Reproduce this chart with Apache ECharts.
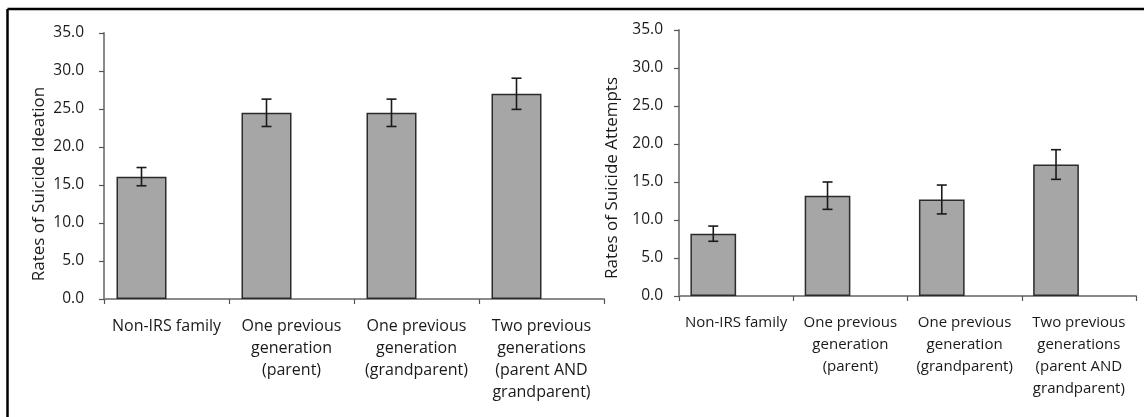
<!DOCTYPE html>
<html>
<head>
<meta charset="utf-8">
<script src="https://cdn.jsdelivr.net/npm/echarts@6/dist/echarts.min.js"></script>
<style>
html,body{margin:0;padding:0;background:#fff;}
#chart{width:1144px;height:417px;}
</style>
</head>
<body>
<div id="chart"></div>
<script>
const categories = [
  'Non-IRS family',
  'One previous\ngeneration\n(parent)',
  'One previous\ngeneration\n(grandparent)',
  'Two previous\ngenerations\n(parent AND\ngrandparent)'
];
const ideationMean = [16.1, 24.5, 24.5, 27.0];
const ideationErr = [1.2, 1.8, 1.8, 2.05];
const attemptsMean = [8.2, 13.2, 12.7, 17.3];
const attemptsErr = [1.0, 1.8, 1.9, 1.95];
const yTicks = {min: 0, max: 35, interval: 5};

const textColor = '#1a1a1a';
const font = 'Open Sans';

function errData(mean, err) {
  return mean.map((m, i) => [i, m - err[i], m + err[i]]);
}

function errRender(params, api) {
  const i = api.value(0);
  const lo = api.coord([i, api.value(1)]);
  const hi = api.coord([i, api.value(2)]);
  const band = api.size([1, 0])[0];
  const x = lo[0] - band * 0.2;
  const cap = 5;
  const style = {stroke: '#1a1a1a', lineWidth: 1.6};
  return {
    type: 'group',
    children: [
      {type: 'line', shape: {x1: x, y1: lo[1], x2: x, y2: hi[1]}, style},
      {type: 'line', shape: {x1: x - cap, y1: lo[1], x2: x + cap, y2: lo[1]}, style},
      {type: 'line', shape: {x1: x - cap, y1: hi[1], x2: x + cap, y2: hi[1]}, style}
    ]
  };
}

function xAxisCfg(grid, size) {
  return {
    type: 'category', gridIndex: grid, data: categories,
    axisLine: {lineStyle: {color: '#8a8a8a', width: 2}},
    axisTick: {show: true, length: 5, lineStyle: {color: '#555', width: 1.2}},
    axisLabel: {color: textColor, fontFamily: font, fontSize: size, lineHeight: 22, margin: 16, interval: 0}
  };
}
function yAxisCfg(grid, margin, size) {
  return {
    type: 'value', gridIndex: grid, min: yTicks.min, max: yTicks.max, interval: yTicks.interval,
    axisLine: {show: true, lineStyle: {color: '#8a8a8a', width: 2}},
    axisTick: {show: true, length: 5, lineStyle: {color: '#555', width: 1.2}},
    splitLine: {show: false},
    axisLabel: {color: textColor, fontFamily: font, fontSize: size, margin: margin,
      formatter: v => v.toFixed(1)}
  };
}
const barStyle = {color: '#a6a6a6', borderColor: '#2b2b2b', borderWidth: 1.5};

const option = {
  animation: false,
  backgroundColor: '#fff',
  grid: [
    {left: 104, top: 33, width: 500, height: 266},
    {left: 679, top: 30, width: 457, height: 266}
  ],
  xAxis: [xAxisCfg(0, 16), xAxisCfg(1, 15)],
  yAxis: [yAxisCfg(0, 20, 15.5), yAxisCfg(1, 16, 15.5)],
  series: [
    {type: 'bar', xAxisIndex: 0, yAxisIndex: 0, data: ideationMean, itemStyle: barStyle,
      barGap: '0%', barCategoryGap: '20%'},
    {type: 'bar', xAxisIndex: 0, yAxisIndex: 0, data: ideationMean.map(() => '-'), itemStyle: barStyle},
    {type: 'custom', xAxisIndex: 0, yAxisIndex: 0, data: errData(ideationMean, ideationErr),
      renderItem: errRender, encode: {x: 0, y: [1, 2]}, z: 10},
    {type: 'bar', xAxisIndex: 1, yAxisIndex: 1, data: attemptsMean, itemStyle: barStyle,
      barGap: '0%', barCategoryGap: '20%'},
    {type: 'bar', xAxisIndex: 1, yAxisIndex: 1, data: attemptsMean.map(() => '-'), itemStyle: barStyle},
    {type: 'custom', xAxisIndex: 1, yAxisIndex: 1, data: errData(attemptsMean, attemptsErr),
      renderItem: errRender, encode: {x: 0, y: [1, 2]}, z: 10}
  ],
  graphic: [
    {type: 'line', shape: {x1: 7.5, y1: 9, x2: 1144, y2: 9}, style: {stroke: '#000', lineWidth: 2.5}},
    {type: 'line', shape: {x1: 7.5, y1: 9, x2: 7.5, y2: 417}, style: {stroke: '#000', lineWidth: 2.5}},
    {type: 'text', x: 39, y: 184, rotation: Math.PI / 2,
      style: {text: 'Rates of Suicide Ideation', fill: textColor, font: '17px "Open Sans"',
        textAlign: 'center', textVerticalAlign: 'middle'}},
    {type: 'text', x: 612, y: 178, rotation: Math.PI / 2,
      style: {text: 'Rates of Suicide Attempts', fill: textColor, font: '17px "Open Sans"',
        textAlign: 'center', textVerticalAlign: 'middle'}}
  ]
};

const chart = echarts.init(document.getElementById('chart'), null, {renderer: 'canvas'});
chart.setOption(option);
</script>
</body>
</html>
